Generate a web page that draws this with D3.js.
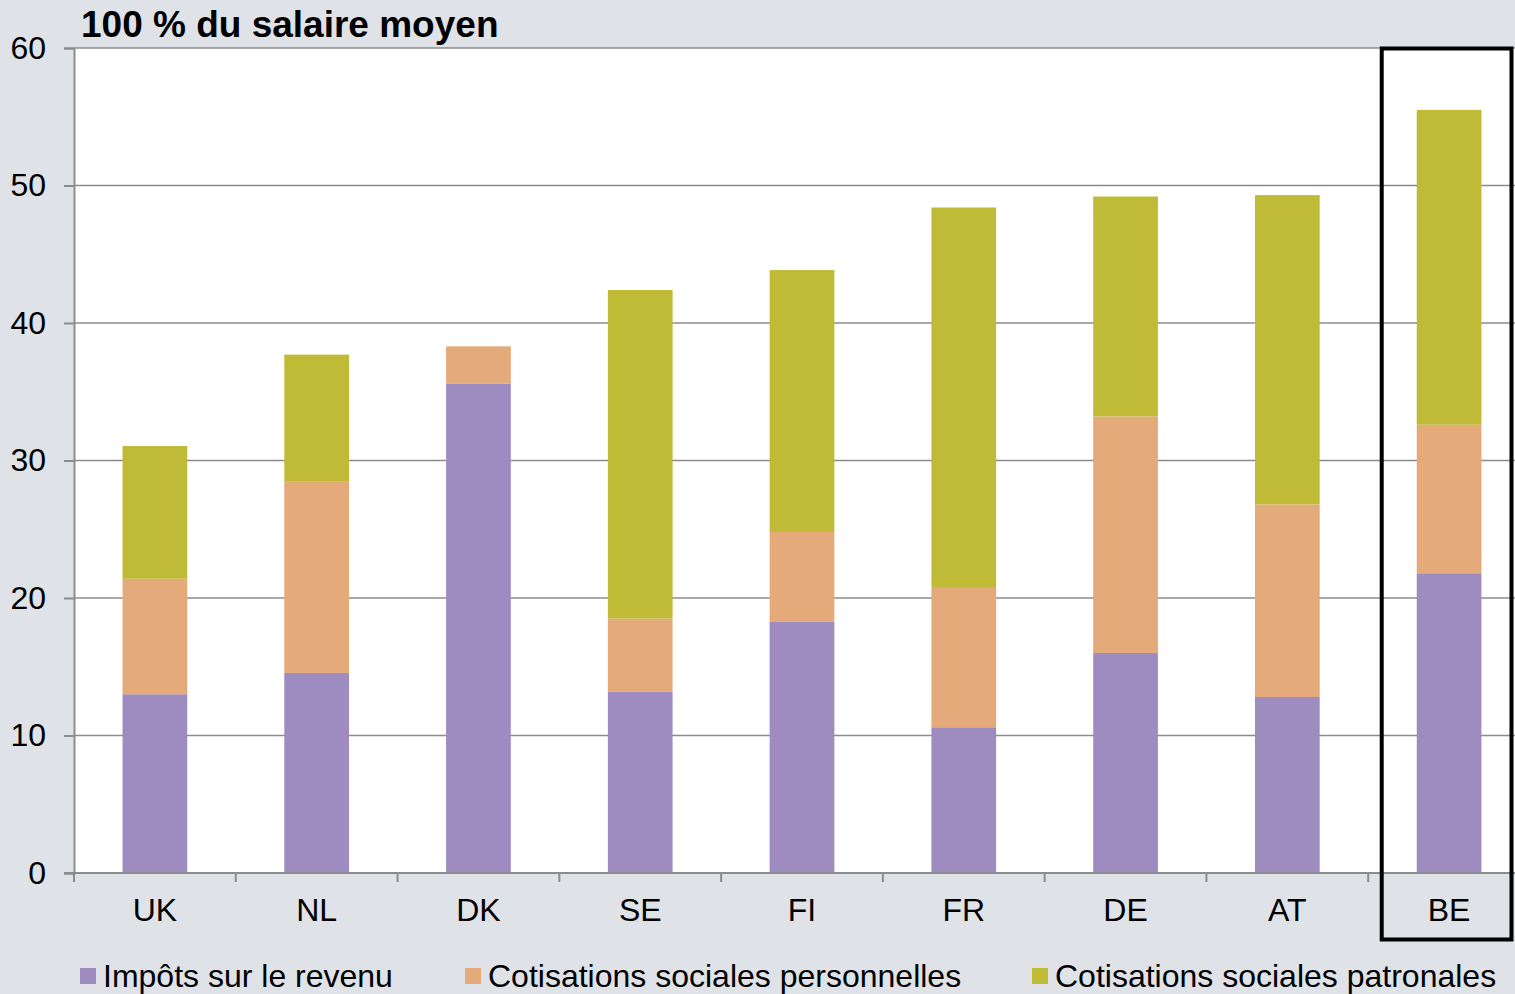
<!DOCTYPE html>
<html>
<head>
<meta charset="utf-8">
<script src="https://cdn.jsdelivr.net/npm/d3@7"></script>
<style>
  body { margin: 0; background: #dfe2e7; }
  svg { display: block; font-family: "Liberation Sans", Arial, sans-serif; }
</style>
</head>
<body>
<svg id="chart" width="1515" height="994"></svg>
<script>
// data
var countries = ["UK", "NL", "DK", "SE", "FI", "FR", "DE", "AT", "BE"];
var impots      = [13.0, 14.55, 35.6, 13.2, 18.3, 10.6, 16.0, 12.8, 21.8];
var cotPerso    = [8.4, 13.95, 2.7, 5.3, 6.5, 10.2, 17.2, 14.0, 10.8];
var cotPatronal = [9.65, 9.2, 0, 23.9, 19.05, 27.6, 16.0, 22.5, 22.9];
var seriesNames = ["Impôts sur le revenu", "Cotisations sociales personnelles", "Cotisations sociales patronales"];
var colors = ["#9e8bbf", "#e4aa7a", "#bfbb36"];
var yTicks = [0, 10, 20, 30, 40, 50, 60];
var highlight = "BE";

var svg = d3.select("#chart");
var margin = {top: 48, left: 74, bottom: 873};
var plotRight = 1530;

var x = d3.scaleBand().domain(countries).range([margin.left, plotRight]).paddingInner(0.6).paddingOuter(0.3);
var xTickScale = d3.scaleBand().domain(countries).range([margin.left, plotRight]);
var y = d3.scaleLinear().domain([0, 60]).range([margin.bottom, margin.top]);

// plot background
svg.append("rect")
  .attr("x", margin.left).attr("y", margin.top)
  .attr("width", plotRight - margin.left).attr("height", margin.bottom - margin.top)
  .attr("fill", "#ffffff");

// gridlines
svg.append("g").selectAll("line")
  .data(yTicks.filter(function(d){ return d > 0; }))
  .enter().append("line")
  .attr("x1", margin.left).attr("x2", plotRight)
  .attr("y1", function(d){ return y(d); }).attr("y2", function(d){ return y(d); })
  .attr("stroke", "#8c8c8c").attr("stroke-width", 1.5);

// stacked bars
var table = countries.map(function(c, i){
  return {country: c, s0: impots[i], s1: cotPerso[i], s2: cotPatronal[i]};
});
var stack = d3.stack().keys(["s0", "s1", "s2"]);
var layers = stack(table);

svg.append("g").selectAll("g")
  .data(layers)
  .enter().append("g")
  .attr("fill", function(d, i){ return colors[i]; })
  .selectAll("rect")
  .data(function(d){ return d; })
  .enter().append("rect")
  .attr("x", function(d){ return x(d.data.country); })
  .attr("width", x.bandwidth())
  .attr("y", function(d){ return y(d[1]); })
  .attr("height", function(d){ return y(d[0]) - y(d[1]); });

// y axis
var yAxis = svg.append("g")
  .attr("transform", "translate(" + margin.left + ",0)")
  .call(d3.axisLeft(y).tickValues(yTicks).tickSize(10).tickPadding(18));
yAxis.select(".domain").attr("stroke", "#8c8c8c").attr("stroke-width", 2);
yAxis.selectAll(".tick line").attr("stroke", "#8c8c8c").attr("stroke-width", 2);
yAxis.selectAll(".tick text").attr("font-size", 32).attr("fill", "#000")
  .attr("font-family", "Liberation Sans, Arial, sans-serif");

// x axis
var xAxis = svg.append("g")
  .attr("transform", "translate(0," + margin.bottom + ")")
  .call(d3.axisBottom(x).tickSize(0).tickPadding(25));
xAxis.select(".domain").remove();
xAxis.append("line")
  .attr("x1", margin.left - 10).attr("x2", plotRight)
  .attr("stroke", "#8c8c8c").attr("stroke-width", 2);
xAxis.selectAll(".tick text").attr("font-size", 32).attr("fill", "#000")
  .attr("font-family", "Liberation Sans, Arial, sans-serif");
xAxis.selectAll(".xt")
  .data(countries)
  .enter().append("line")
  .attr("class", "xt")
  .attr("x1", function(d){ return xTickScale(d); }).attr("x2", function(d){ return xTickScale(d); })
  .attr("y1", 0).attr("y2", 9)
  .attr("stroke", "#8c8c8c").attr("stroke-width", 2);

// highlight box
svg.append("rect")
  .attr("x", xTickScale(highlight) + 13.5)
  .attr("y", 48.5)
  .attr("width", 1511.5 - xTickScale(highlight) - 13.5)
  .attr("height", 891)
  .attr("fill", "none").attr("stroke", "#000").attr("stroke-width", 4);

// title
svg.append("text")
  .attr("x", 81).attr("y", 37)
  .attr("font-size", 37).attr("font-weight", "bold")
  .text("100 % du salaire moyen");

// legend
var legendX = [80, 465, 1032];
var legend = svg.append("g").selectAll("g")
  .data(seriesNames)
  .enter().append("g")
  .attr("transform", function(d, i){ return "translate(" + legendX[i] + ",968)"; });
legend.append("rect").attr("width", 16).attr("height", 16)
  .attr("fill", function(d, i){ return colors[i]; });
legend.append("text").attr("x", 23).attr("y", 19).attr("font-size", 32).text(function(d){ return d; });
</script>
</body>
</html>
